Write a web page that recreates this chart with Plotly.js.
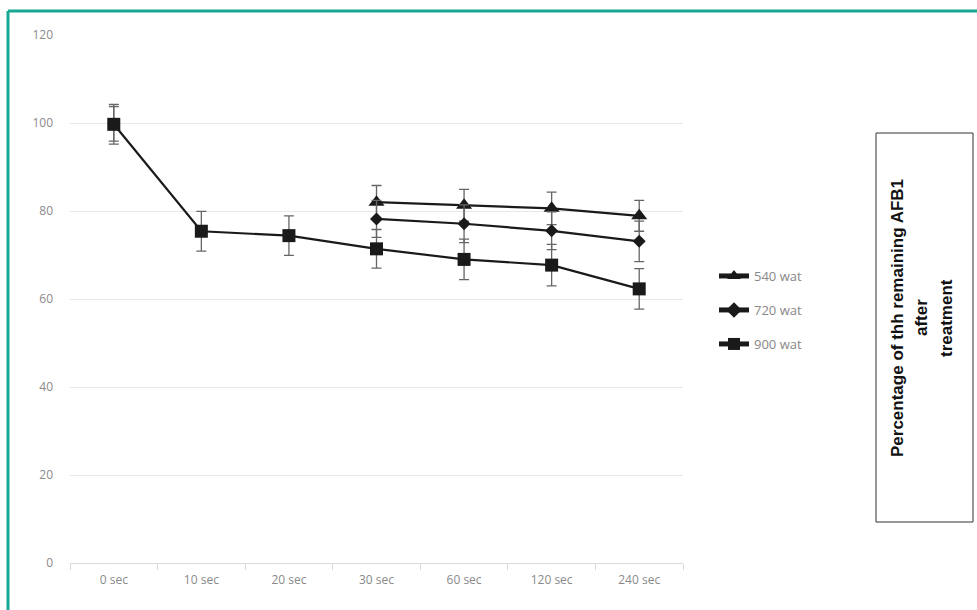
<!DOCTYPE html>
<html>
<head>
<meta charset="utf-8">
<script src="https://cdn.plot.ly/plotly-3.0.1.min.js"></script>
<style>html,body{margin:0;padding:0;background:#fff;}#chart{width:977px;height:610px;}</style>
</head>
<body>
<div id="chart"></div>
<script>
const categories = ["0 sec", "10 sec", "20 sec", "30 sec", "60 sec", "120 sec", "240 sec"];
const seriesNames = ["540 wat", "720 wat", "900 wat"];
const values540 = [null, null, null, 82.0, 81.3, 80.6, 78.9];
const errors540 = [0, 0, 0, 3.8, 3.6, 3.7, 3.5];
const values720 = [99.8, null, null, 78.2, 77.1, 75.5, 73.1];
const errors720 = [3.9, 0, 0, 4.2, 4.3, 4.3, 4.6];
const values900 = [99.7, 75.4, 74.4, 71.4, 69.0, 67.7, 62.3];
const errors900 = [4.5, 4.5, 4.5, 4.4, 4.6, 4.7, 4.6];
const yTicks = [0, 20, 40, 60, 80, 100, 120];
const yTitleLines = ["Percentage of thh remaining AFB1", "after", "treatment"];

const L = 70, R = 683, T = 35, B = 563, W = 977, H = 610;
const px = v => (v - L) / (R - L);
const py = v => (B - v) / (B - T);

function mk(name, y, err, symbol, size, legendId) {
  return {
    type: "scatter", mode: "lines+markers", name: name, x: categories, y: y,
    connectgaps: false, legend: legendId,
    line: {color: "#1a1a1a", width: 2.2},
    marker: {symbol: symbol, size: size, color: "#1a1a1a"},
    error_y: {type: "data", array: err, visible: true, color: "#666", thickness: 1.3, width: 5}
  };
}

const data = [
  mk(seriesNames[0], values540, errors540, "triangle-up", 14, "legend"),
  mk(seriesNames[1], values720, errors720, "diamond", 10, "legend2"),
  mk(seriesNames[2], values900, errors900, "square", 13, "legend3")
];

const legFont = {family: "Open Sans, sans-serif", size: 13, color: "#888"};
function leg(yc) {
  return {x: px(714), xanchor: "left", y: py(yc), yanchor: "middle", font: legFont,
          bgcolor: "rgba(0,0,0,0)", itemsizing: "constant", tracegroupgap: 0};
}

const annotations = yTitleLines.map((t, i) => ({
  xref: "paper", yref: "paper", x: px([897, 921, 946][i]), y: py(318),
  text: t, showarrow: false, textangle: -90,
  font: {family: "Liberation Sans, Arial, sans-serif", size: 17, color: "#111", weight: "bold"},
  xanchor: "center", yanchor: "middle"
}));

const layout = {
  width: W, height: H,
  margin: {l: L, r: W - R, t: T, b: H - B},
  paper_bgcolor: "#fff", plot_bgcolor: "#fff",
  showlegend: true,
  legend: leg(276), legend2: leg(310), legend3: leg(344),
  xaxis: {
    type: "category", range: [-0.5, 6.5], tickson: "boundaries",
    ticks: "outside", ticklen: 6, tickcolor: "#d9d9d9", tickwidth: 1,
    showline: true, linecolor: "#d9d9d9", linewidth: 1, showgrid: false, zeroline: false,
    tickfont: {family: "Open Sans, sans-serif", size: 12, color: "#8a8a8a"},
    ticklabelstandoff: 6
  },
  yaxis: {
    range: [0, 120], tickvals: yTicks, showline: false, zeroline: false,
    gridcolor: "#e8e8e8", gridwidth: 1, ticks: "",
    tickfont: {family: "Open Sans, sans-serif", size: 12, color: "#8a8a8a"},
    ticklabelstandoff: 16
  },
  annotations: annotations,
  shapes: [
    {type: "line", xref: "paper", yref: "paper", x0: px(8), x1: px(W + 5), y0: py(11), y1: py(11),
     line: {color: "#17a794", width: 3}},
    {type: "line", xref: "paper", yref: "paper", x0: px(8), x1: px(8), y0: py(11), y1: py(H + 5),
     line: {color: "#17a794", width: 3}},
    {type: "rect", xref: "paper", yref: "paper", x0: px(876), x1: px(973), y0: py(522), y1: py(133),
     line: {color: "#333", width: 1}, fillcolor: "rgba(0,0,0,0)"}
  ]
};

Plotly.newPlot("chart", data, layout, {displayModeBar: false, staticPlot: true});
</script>
</body>
</html>
